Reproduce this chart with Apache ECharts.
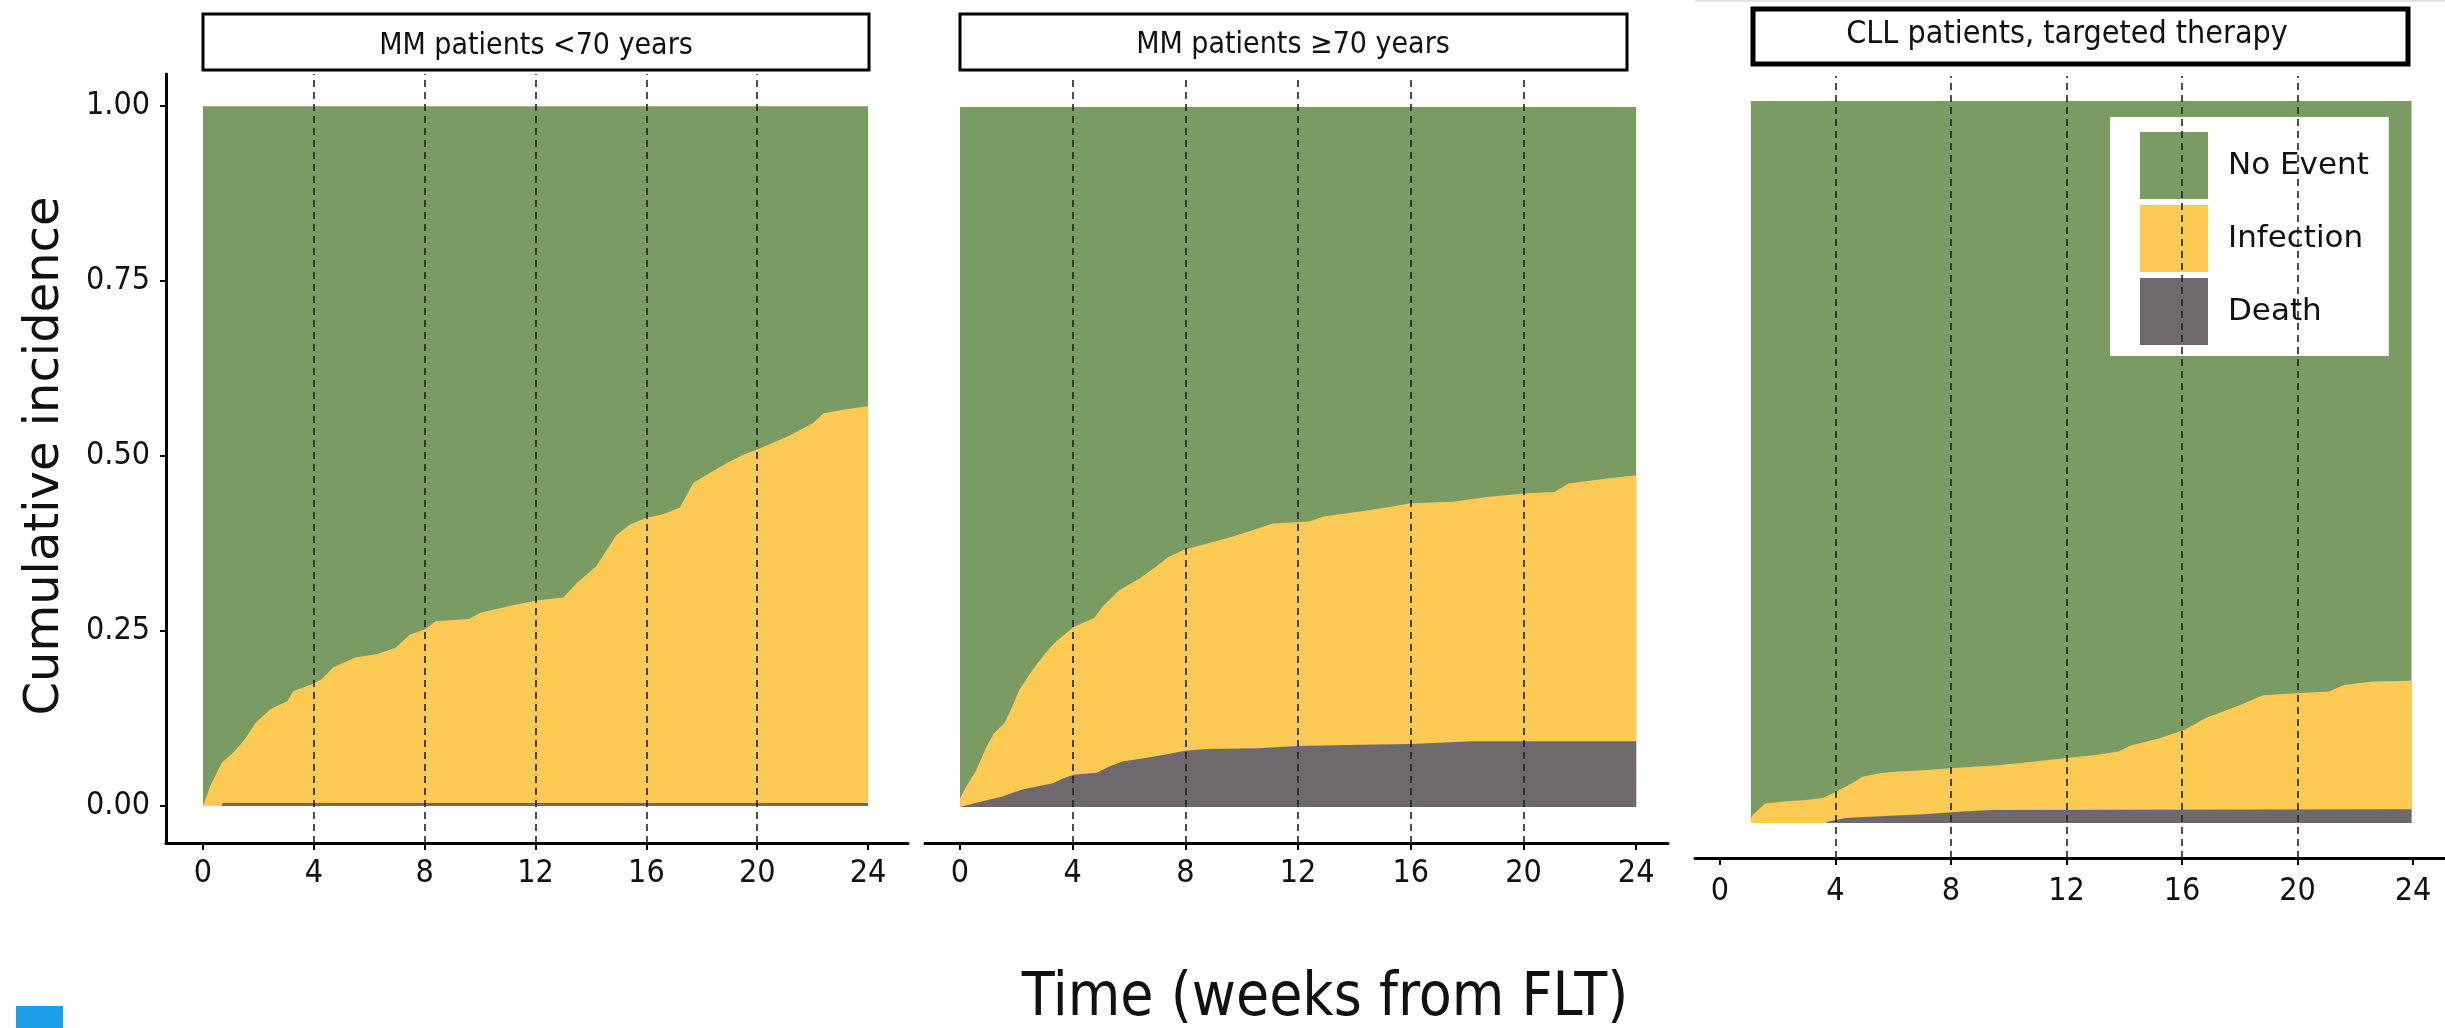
<!DOCTYPE html>
<html>
<head>
<meta charset="utf-8">
<title>Cumulative incidence</title>
<script src="https://cdn.jsdelivr.net/npm/echarts@6/dist/echarts.min.js"></script>
<style>
  html, body { margin: 0; padding: 0; background: #fff; }
  #chart { width: 2445px; height: 1028px; }
</style>
</head>
<body>
<div id="chart"></div>
<script>
// ---- data (weeks from FLT / cumulative incidence) ----
const panelTitles = ['MM patients <70 years', 'MM patients \u226570 years', 'CLL patients, targeted therapy']
const stateNames = ['No Event', 'Infection', 'Death']
const xTicks = [0, 4, 8, 12, 16, 20, 24]
const yTicks = [0, 0.25, 0.5, 0.75, 1]
const guideWeeks = [4, 8, 12, 16, 20]

// MM < 70: top of infection band (infection + death) and death band
const mmYoungTime = [0, 0.27, 0.68, 1.09, 1.5, 1.9, 2.43, 3.05, 3.25, 3.93, 4.28, 4.7, 5.5, 6.3, 6.95, 7.47, 8.0, 8.4, 9.6, 10.0, 11.3, 12.1, 13.0, 13.5, 14.2, 14.9, 15.4, 16.0, 16.6, 17.2, 17.7, 18.3, 18.9, 19.5, 20.1, 21.1, 22.0, 22.4, 23.2, 24]
const mmYoungInfection = [0, 0.029, 0.062, 0.076, 0.095, 0.119, 0.138, 0.150, 0.164, 0.174, 0.181, 0.198, 0.212, 0.217, 0.226, 0.245, 0.252, 0.264, 0.267, 0.276, 0.288, 0.294, 0.298, 0.319, 0.343, 0.386, 0.402, 0.412, 0.417, 0.426, 0.462, 0.476, 0.490, 0.502, 0.511, 0.528, 0.547, 0.561, 0.567, 0.571]
const mmYoungDeathTime = [0, 0.68, 0.7, 24]
const mmYoungDeath = [0, 0, 0.004, 0.004]

// MM >= 70
const mmOldTime = [0, 0.22, 0.58, 0.94, 1.2, 1.58, 1.85, 2.1, 2.58, 3.03, 3.4, 4.03, 4.76, 5.12, 5.66, 6.4, 6.94, 7.4, 7.93, 8.75, 9.66, 10.57, 11.1, 12.4, 12.9, 14.2, 15.3, 16.0, 17.5, 18.7, 20.0, 21.1, 21.6, 22.9, 24]
const mmOldInfection = [0.012, 0.029, 0.053, 0.086, 0.105, 0.120, 0.143, 0.167, 0.196, 0.220, 0.236, 0.257, 0.270, 0.289, 0.310, 0.327, 0.343, 0.357, 0.367, 0.376, 0.386, 0.398, 0.405, 0.408, 0.415, 0.422, 0.429, 0.434, 0.436, 0.443, 0.448, 0.450, 0.462, 0.469, 0.474]
const mmOldDeathTime = [0, 0.58, 1.5, 2.2, 3.3, 3.67, 4.03, 4.85, 5.3, 5.76, 6.57, 7.3, 7.93, 8.75, 10.57, 12.0, 14.2, 16.0, 18.2, 24]
const mmOldDeath = [0, 0.006, 0.015, 0.025, 0.034, 0.041, 0.046, 0.049, 0.058, 0.065, 0.070, 0.075, 0.080, 0.083, 0.084, 0.087, 0.089, 0.090, 0.094, 0.094]

// CLL, targeted therapy (panel starts a little after week 0)
const cllTime = [1.07, 1.13, 1.56, 2.32, 3.0, 3.59, 4.0, 4.43, 4.94, 5.53, 6.04, 7.05, 8.07, 9.6, 10.9, 12.0, 13.0, 13.8, 14.2, 15.2, 16.1, 16.8, 17.4, 18.0, 18.8, 20.1, 21.1, 21.6, 22.6, 23.95]
const cllInfection = [0.006, 0.011, 0.027, 0.030, 0.032, 0.035, 0.043, 0.052, 0.064, 0.069, 0.071, 0.073, 0.076, 0.080, 0.085, 0.090, 0.094, 0.099, 0.107, 0.117, 0.129, 0.145, 0.154, 0.163, 0.177, 0.180, 0.182, 0.191, 0.196, 0.197]
const cllDeathTime = [1.07, 3.67, 3.75, 4.35, 5.36, 7.05, 8.4, 9.4, 23.95]
const cllDeath = [0, 0, 0.002, 0.007, 0.009, 0.012, 0.016, 0.018, 0.019]

const colors = { 'No Event': '#7a9c63', 'Infection': '#fdca53', 'Death': '#6e696d' }

const condensed = "'DejaVu Sans Condensed', 'DejaVu Sans', sans-serif"
const regular = "'DejaVu Sans', sans-serif"

const chart = echarts.init(document.getElementById('chart'))

const zip = (xs, ys) => xs.map((x, i) => [x, ys[i]])

// one filled band per state; later series paint over earlier ones
function band(idx, name, data, extra) {
  return Object.assign({
    name,
    type: 'line',
    xAxisIndex: idx,
    yAxisIndex: idx,
    data,
    showSymbol: false,
    symbol: 'none',
    silent: true,
    lineStyle: { width: 0 },
    itemStyle: { color: colors[name] },
    areaStyle: { color: colors[name], opacity: 1 }
  }, extra || {})
}

function guides() {
  return {
    silent: true,
    symbol: ['none', 'none'],
    label: { show: false },
    lineStyle: { type: [7, 5], color: '#222', width: 1.6 },
    data: guideWeeks.map(w => ({ xAxis: w }))
  }
}

const panels = [
  { start: 0, end: 24, inf: zip(mmYoungTime, mmYoungInfection), death: zip(mmYoungDeathTime, mmYoungDeath) },
  { start: 0, end: 24, inf: zip(mmOldTime, mmOldInfection), death: zip(mmOldDeathTime, mmOldDeath) },
  { start: 1.07, end: 23.95, inf: zip(cllTime, cllInfection), death: zip(cllDeathTime, cllDeath) }
]

const series = []
panels.forEach((p, i) => {
  series.push(band(i, 'No Event', [[p.start, 1], [p.end, 1]]))
  series.push(band(i, 'Infection', p.inf))
  series.push(band(i, 'Death', p.death, { markLine: guides() }))
})

const grids = [
  { left: 166, top: 74, width: 742, height: 769 },
  { left: 925, top: 80, width: 743, height: 763 },
  { left: 1695, top: 76, width: 750, height: 782 }
]

// x ranges so that week 0 and 24 land where the figure puts them
const xRanges = [[-1.335, 25.44], [-1.243, 25.13], [-0.866, 25.11]]
const yRanges = [[-0.053, 1.046], [-0.0514, 1.0386], [-0.0485, 1.0346]]
const labelGaps = [15, 15, 18]

const xAxis = xRanges.map((r, i) => ({
  type: 'value',
  gridIndex: i,
  min: r[0],
  max: r[1],
  splitLine: { show: false },
  axisLine: { onZero: false, lineStyle: { color: '#000', width: 3 } },
  axisTick: { customValues: xTicks, length: 7, lineStyle: { color: '#000', width: 2 } },
  axisLabel: { customValues: xTicks, color: '#111', fontSize: 32, fontFamily: condensed, margin: labelGaps[i] }
}))

const yAxis = yRanges.map((r, i) => ({
  type: 'value',
  gridIndex: i,
  min: r[0],
  max: r[1],
  show: i === 0,
  splitLine: { show: false },
  axisLine: { show: i === 0, onZero: false, lineStyle: { color: '#000', width: 3 } },
  axisTick: { show: i === 0, customValues: yTicks, length: 6, lineStyle: { color: '#000', width: 2 } },
  axisLabel: {
    show: i === 0,
    customValues: yTicks,
    formatter: v => v.toFixed(2),
    color: '#111',
    fontSize: 32,
    fontFamily: condensed,
    margin: 16
  }
}))

// facet strips above each panel
const strips = [
  { x: 203, y: 14, w: 666, h: 56, lw: 3, cx: 536, cy: 46, fs: 30 },
  { x: 960, y: 14, w: 667, h: 56, lw: 3, cx: 1293, cy: 45, fs: 30 },
  { x: 1753, y: 9, w: 655, h: 55, lw: 5, cx: 2067, cy: 35, fs: 32 }
]
const graphic = []
strips.forEach((s, i) => {
  graphic.push({
    type: 'rect',
    shape: { x: s.x, y: s.y, width: s.w, height: s.h },
    style: { fill: '#fff', stroke: '#000', lineWidth: s.lw }
  })
  graphic.push({
    type: 'text',
    x: s.cx,
    y: s.cy,
    style: { text: panelTitles[i], fill: '#111', font: s.fs + 'px ' + condensed, align: 'center', verticalAlign: 'middle' }
  })
})
graphic.push({
  type: 'text', x: 46, y: 456, rotation: Math.PI / 2,
  style: { text: 'Cumulative incidence', fill: '#111', font: '48px ' + regular, align: 'center', verticalAlign: 'middle' }
})
graphic.push({
  type: 'text', x: 1325, y: 999,
  style: { text: 'Time (weeks from FLT)', fill: '#111', font: '60px ' + condensed, align: 'center', verticalAlign: 'middle' }
})
// thin rule along the top of the third panel and the small blue mark bottom-left
graphic.push({ type: 'line', shape: { x1: 1695, y1: 1, x2: 2445, y2: 1 }, style: { stroke: '#e3e3e3', lineWidth: 2 } })
graphic.push({ type: 'rect', shape: { x: 16, y: 1006, width: 47, height: 22 }, style: { fill: '#1b9fe6' } })

chart.setOption({
  animation: false,
  backgroundColor: '#fff',
  grid: grids,
  xAxis,
  yAxis,
  legend: {
    data: stateNames,
    orient: 'vertical',
    left: 2110,
    top: 117,
    icon: 'rect',
    itemWidth: 68,
    itemHeight: 67,
    itemGap: 6,
    selectedMode: false,
    backgroundColor: '#fff',
    padding: [15, 20, 11, 30],
    itemStyle: { borderWidth: 0 },
    lineStyle: { width: 0 },
    textStyle: { color: '#111', fontSize: 31, fontFamily: regular, padding: [0, 0, 0, 15] }
  },
  series,
  graphic
})

window.addEventListener('resize', () => chart.resize())
</script>
</body>
</html>
